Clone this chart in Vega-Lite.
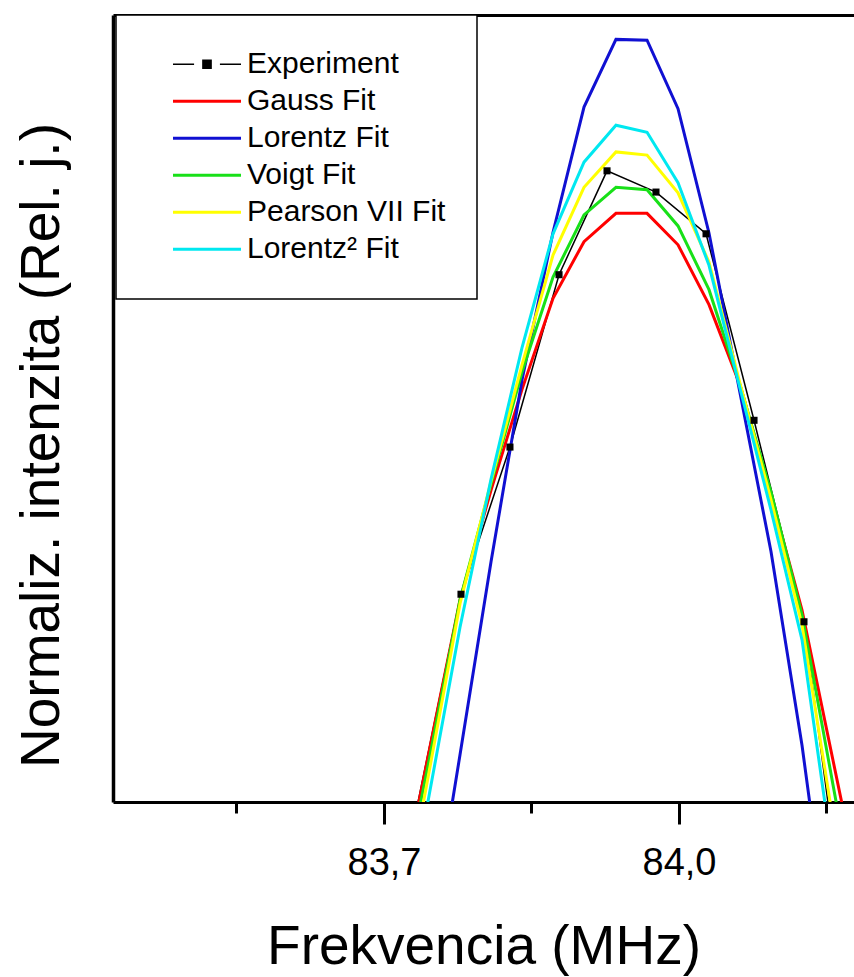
{
  "$schema": "https://vega.github.io/schema/vega-lite/v6.json",
  "width": 741,
  "height": 787,
  "autosize": "none",
  "padding": {"left": 113, "top": 15, "right": 0, "bottom": 175},
  "background": "white",
  "config": {
    "view": {"stroke": null},
    "font": "Liberation Sans",
    "axis": {"grid": false, "labelColor": "black", "titleColor": "black", "titleFontWeight": "normal", "domainColor": "black", "tickColor": "black"}
  },
  "data": {
    "values": [
      {"f": 83.7285, "v": -0.037, "s": "Experiment"},
      {"f": 83.7783, "v": 0.264, "s": "Experiment"},
      {"f": 83.8281, "v": 0.451, "s": "Experiment"},
      {"f": 83.8780, "v": 0.670, "s": "Experiment"},
      {"f": 83.9268, "v": 0.802, "s": "Experiment"},
      {"f": 83.9766, "v": 0.775, "s": "Experiment"},
      {"f": 84.0275, "v": 0.722, "s": "Experiment"},
      {"f": 84.0763, "v": 0.485, "s": "Experiment"},
      {"f": 84.1271, "v": 0.229, "s": "Experiment"},
      {"f": 84.1769, "v": -0.240, "s": "Experiment"},

      {"f": 83.7142, "v": -0.131, "s": "Gauss Fit"},
      {"f": 83.7458, "v": 0.064, "s": "Gauss Fit"},
      {"f": 83.7773, "v": 0.257, "s": "Gauss Fit"},
      {"f": 83.8088, "v": 0.396, "s": "Gauss Fit"},
      {"f": 83.8403, "v": 0.524, "s": "Gauss Fit"},
      {"f": 83.8719, "v": 0.640, "s": "Gauss Fit"},
      {"f": 83.9034, "v": 0.712, "s": "Gauss Fit"},
      {"f": 83.9359, "v": 0.748, "s": "Gauss Fit"},
      {"f": 83.9675, "v": 0.748, "s": "Gauss Fit"},
      {"f": 83.9990, "v": 0.708, "s": "Gauss Fit"},
      {"f": 84.0305, "v": 0.632, "s": "Gauss Fit"},
      {"f": 84.0620, "v": 0.530, "s": "Gauss Fit"},
      {"f": 84.0936, "v": 0.390, "s": "Gauss Fit"},
      {"f": 84.1251, "v": 0.244, "s": "Gauss Fit"},
      {"f": 84.1566, "v": 0.053, "s": "Gauss Fit"},
      {"f": 84.1881, "v": -0.137, "s": "Gauss Fit"},

      {"f": 83.7142, "v": -0.417, "s": "Lorentz Fit"},
      {"f": 83.7458, "v": -0.183, "s": "Lorentz Fit"},
      {"f": 83.7773, "v": 0.060, "s": "Lorentz Fit"},
      {"f": 83.8088, "v": 0.305, "s": "Lorentz Fit"},
      {"f": 83.8403, "v": 0.536, "s": "Lorentz Fit"},
      {"f": 83.8719, "v": 0.724, "s": "Lorentz Fit"},
      {"f": 83.9034, "v": 0.883, "s": "Lorentz Fit"},
      {"f": 83.9359, "v": 0.969, "s": "Lorentz Fit"},
      {"f": 83.9675, "v": 0.968, "s": "Lorentz Fit"},
      {"f": 83.9990, "v": 0.881, "s": "Lorentz Fit"},
      {"f": 84.0305, "v": 0.723, "s": "Lorentz Fit"},
      {"f": 84.0620, "v": 0.520, "s": "Lorentz Fit"},
      {"f": 84.0936, "v": 0.318, "s": "Lorentz Fit"},
      {"f": 84.1251, "v": 0.072, "s": "Lorentz Fit"},
      {"f": 84.1566, "v": -0.220, "s": "Lorentz Fit"},
      {"f": 84.1881, "v": -0.506, "s": "Lorentz Fit"},

      {"f": 83.7142, "v": -0.144, "s": "Voigt Fit"},
      {"f": 83.7458, "v": 0.053, "s": "Voigt Fit"},
      {"f": 83.7773, "v": 0.257, "s": "Voigt Fit"},
      {"f": 83.8088, "v": 0.404, "s": "Voigt Fit"},
      {"f": 83.8403, "v": 0.546, "s": "Voigt Fit"},
      {"f": 83.8719, "v": 0.667, "s": "Voigt Fit"},
      {"f": 83.9034, "v": 0.746, "s": "Voigt Fit"},
      {"f": 83.9359, "v": 0.781, "s": "Voigt Fit"},
      {"f": 83.9675, "v": 0.778, "s": "Voigt Fit"},
      {"f": 83.9990, "v": 0.732, "s": "Voigt Fit"},
      {"f": 84.0305, "v": 0.651, "s": "Voigt Fit"},
      {"f": 84.0620, "v": 0.530, "s": "Voigt Fit"},
      {"f": 84.0936, "v": 0.394, "s": "Voigt Fit"},
      {"f": 84.1251, "v": 0.238, "s": "Voigt Fit"},
      {"f": 84.1566, "v": 0.022, "s": "Voigt Fit"},
      {"f": 84.1881, "v": -0.194, "s": "Voigt Fit"},

      {"f": 83.7142, "v": -0.175, "s": "Pearson VII Fit"},
      {"f": 83.7458, "v": 0.038, "s": "Pearson VII Fit"},
      {"f": 83.7773, "v": 0.252, "s": "Pearson VII Fit"},
      {"f": 83.8088, "v": 0.407, "s": "Pearson VII Fit"},
      {"f": 83.8403, "v": 0.555, "s": "Pearson VII Fit"},
      {"f": 83.8719, "v": 0.695, "s": "Pearson VII Fit"},
      {"f": 83.9034, "v": 0.781, "s": "Pearson VII Fit"},
      {"f": 83.9359, "v": 0.826, "s": "Pearson VII Fit"},
      {"f": 83.9675, "v": 0.822, "s": "Pearson VII Fit"},
      {"f": 83.9990, "v": 0.774, "s": "Pearson VII Fit"},
      {"f": 84.0305, "v": 0.686, "s": "Pearson VII Fit"},
      {"f": 84.0620, "v": 0.532, "s": "Pearson VII Fit"},
      {"f": 84.0936, "v": 0.384, "s": "Pearson VII Fit"},
      {"f": 84.1251, "v": 0.225, "s": "Pearson VII Fit"},
      {"f": 84.1566, "v": -0.023, "s": "Pearson VII Fit"},
      {"f": 84.1881, "v": -0.277, "s": "Pearson VII Fit"},

      {"f": 83.7142, "v": -0.207, "s": "Lorentz² Fit"},
      {"f": 83.7458, "v": 0.008, "s": "Lorentz² Fit"},
      {"f": 83.7773, "v": 0.222, "s": "Lorentz² Fit"},
      {"f": 83.8088, "v": 0.410, "s": "Lorentz² Fit"},
      {"f": 83.8403, "v": 0.577, "s": "Lorentz² Fit"},
      {"f": 83.8719, "v": 0.722, "s": "Lorentz² Fit"},
      {"f": 83.9034, "v": 0.813, "s": "Lorentz² Fit"},
      {"f": 83.9359, "v": 0.860, "s": "Lorentz² Fit"},
      {"f": 83.9675, "v": 0.851, "s": "Lorentz² Fit"},
      {"f": 83.9990, "v": 0.787, "s": "Lorentz² Fit"},
      {"f": 84.0305, "v": 0.682, "s": "Lorentz² Fit"},
      {"f": 84.0620, "v": 0.526, "s": "Lorentz² Fit"},
      {"f": 84.0936, "v": 0.371, "s": "Lorentz² Fit"},
      {"f": 84.1251, "v": 0.206, "s": "Lorentz² Fit"},
      {"f": 84.1566, "v": -0.074, "s": "Lorentz² Fit"},
      {"f": 84.1881, "v": -0.353, "s": "Lorentz² Fit"}
    ]
  },
  "resolve": {"axis": {"x": "independent"}},
  "layer": [
    {
      "mark": {"type": "line", "clip": true},
      "encoding": {
        "x": {
          "field": "f", "type": "quantitative",
          "scale": {"domain": [83.42441, 84.17797], "nice": false, "zero": false},
          "axis": {
            "orient": "bottom",
            "values": [83.55, 83.7, 83.85, 84.0, 84.15],
            "labelExpr": "round(datum.value*100) % 30 == 0 ? replace(format(datum.value, '.1f'), '.', ',') : ''",
            "tickSize": {"condition": {"test": "round(datum.value*100) % 30 == 0", "value": 22}, "value": 11},
            "tickWidth": 3,
            "domainWidth": 3,
            "labelFontSize": 38,
            "labelPadding": 20,
            "labelFlush": false,
            "labelOverlap": false,
            "title": "Frekvencia (MHz)",
            "titleFontSize": 55,
            "titlePadding": 38
          }
        },
        "y": {
          "field": "v", "type": "quantitative",
          "scale": {"domain": [0, 1], "nice": false, "zero": false},
          "axis": {
            "domain": true, "domainWidth": 3.5, "ticks": false, "labels": false,
            "title": "Normaliz. intenzita (Rel. j.)",
            "titleFontSize": 55, "titlePadding": 43, "titleY": 430
          }
        },
        "color": {
          "field": "s", "type": "nominal",
          "scale": {
            "domain": ["Experiment", "Gauss Fit", "Lorentz Fit", "Voigt Fit", "Pearson VII Fit", "Lorentz² Fit"],
            "range": ["#000000", "#ff0000", "#1010d2", "#18e018", "#ffff00", "#00e8f0"]
          },
          "legend": {
            "orient": "none", "legendX": 3, "legendY": 0,
            "title": null, "direction": "vertical",
            "fillColor": "white", "strokeColor": "black",
            "padding": 31, "symbolOffset": 45, "labelOffset": 25,
            "labelFontSize": 30, "labelColor": "black", "labelLimit": 400,
            "symbolType": "stroke", "symbolSize": 4624, "symbolStrokeWidth": 3,
            "clipHeight": 36.5, "rowPadding": 0,
            "encode": {
              "legend": {"update": {"strokeWidth": {"value": 1.5}}},
              "symbols": {"update": {
                "shape": {"signal": "datum.value === 'Experiment' ? 'M-1,0H-0.38M0.38,0H1M-0.12,-0.12H0.12V0.12H-0.12Z' : 'stroke'"},
                "strokeWidth": {"signal": "datum.value === 'Experiment' ? 1.5 : 3"},
                "fill": {"signal": "datum.value === 'Experiment' ? 'black' : 'transparent'"}
              }}
            }
          }
        },
        "strokeWidth": {"condition": {"test": "datum.s === 'Experiment'", "value": 1.5}, "value": 3}
      }
    },
    {
      "transform": [{"filter": "datum.s === 'Experiment'"}],
      "mark": {"type": "point", "shape": "square", "filled": true, "size": 50, "color": "black", "opacity": 1, "clip": true},
      "encoding": {
        "x": {
          "field": "f", "type": "quantitative",
          "axis": {"orient": "top", "labels": false, "ticks": false, "title": null, "domainWidth": 3}
        },
        "y": {"field": "v", "type": "quantitative"}
      }
    }
  ]
}
